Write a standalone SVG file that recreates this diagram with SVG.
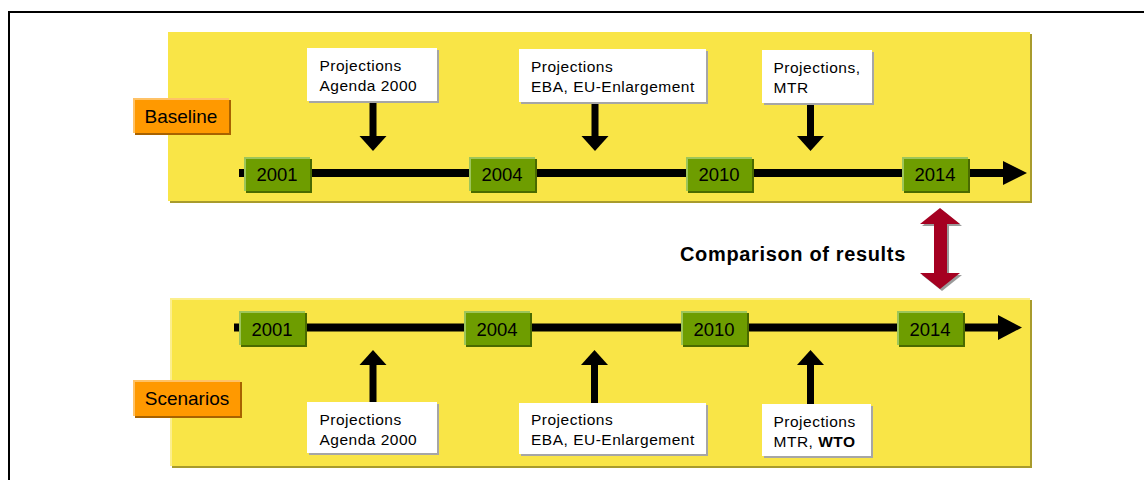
<svg xmlns="http://www.w3.org/2000/svg" width="1144" height="480" viewBox="0 0 1144 480">
<style>
text{font-family:"Liberation Sans",Arial,Helvetica,sans-serif;fill:#000}
.yr{font-size:18.5px;text-anchor:middle}
.lbl{font-size:19px;text-anchor:middle}
.pj{font-size:15.5px;letter-spacing:0.5px}
.panel{fill:#F9E547}
.pshadow{fill:#A89B2C}
.green{fill:#6E9D00}
.gshadow{fill:#4A6A00}
.glight{fill:#9DC55A}
.orange{fill:#FF9900}
.oshadow{fill:#A86200}
.olight{fill:#FFC266}
.white{fill:#FFFFFF}
.wshadow{fill:#A6A6A6}
.blk{fill:#000}
</style>
<rect x="9" y="12" width="1150" height="480" fill="none" stroke="#000" stroke-width="2"/>

<g id="panel-baseline">
<rect class="pshadow" x="170" y="34" width="862" height="169"/>
<rect class="panel" x="168" y="32" width="862" height="169"/>
</g>
<g id="panel-scenarios">
<rect class="pshadow" x="172" y="300" width="860" height="168"/>
<rect fill="#FCEF8C" x="170" y="298" width="860" height="168"/>
<rect class="panel" x="172" y="300" width="858" height="166"/>
</g>

<g id="connectors">
<rect class="blk" x="239" y="169" width="765" height="8"/>
<polygon class="blk" points="1003,161 1027,173 1003,185"/>
<rect class="blk" x="234" y="323.5" width="765" height="8"/>
<polygon class="blk" points="998,315 1022,327.5 998,340"/>
<rect class="blk" x="369.5" y="100" width="7" height="37"/>
<polygon class="blk" points="359.5,136 386.5,136 373,151"/>
<rect class="blk" x="591.5" y="101" width="7" height="36"/>
<polygon class="blk" points="581.5,136 608.5,136 595,151"/>
<rect class="blk" x="807" y="102" width="7" height="35"/>
<polygon class="blk" points="797,136 824,136 810.5,151"/>
<rect class="blk" x="369.5" y="364" width="7" height="39"/>
<polygon class="blk" points="373,350 359.5,365 386.5,365"/>
<rect class="blk" x="591" y="364" width="7" height="40"/>
<polygon class="blk" points="594.5,350 581,365 608,365"/>
<rect class="blk" x="807" y="364" width="7" height="41"/>
<polygon class="blk" points="810.5,350 797,365 824,365"/>
<g id="compare-arrow">
<polygon fill="#9A9A9A" points="942,210 962,226 949,226 949,275 962,275 942,291 922,275 936,275 936,226 922,226"/>
<polygon fill="#A50021" points="940,208 960,224 947,224 947,273 960,273 940,289 920,273 934,273 934,224 920,224"/>
</g>
</g>

<g id="label-baseline">
<rect class="oshadow" x="135" y="100" width="96" height="35"/>
<rect class="olight" x="133" y="98" width="96" height="35"/>
<rect class="orange" x="135" y="100" width="94" height="33"/>
<text class="lbl" x="181" y="123">Baseline</text>
</g>
<g id="label-scenarios">
<rect class="oshadow" x="135" y="382" width="107" height="36"/>
<rect class="olight" x="133" y="380" width="107" height="36"/>
<rect class="orange" x="135" y="382" width="105" height="34"/>
<text class="lbl" x="187" y="404.5">Scenarios</text>
</g>

<g id="comparison">
<text x="680" y="260.5" font-size="20" font-weight="bold" letter-spacing="0.65">Comparison of results</text>
</g>

<g id="top-2001"><rect class="gshadow" x="246" y="159" width="66" height="34"/><rect class="glight" x="244" y="157" width="66" height="34"/><rect class="green" x="246" y="159" width="64" height="32"/><text class="yr" x="277" y="181">2001</text></g>
<g id="top-2004"><rect class="gshadow" x="471" y="159" width="66" height="34"/><rect class="glight" x="469" y="157" width="66" height="34"/><rect class="green" x="471" y="159" width="64" height="32"/><text class="yr" x="502" y="181">2004</text></g>
<g id="top-2010"><rect class="gshadow" x="688" y="159" width="66" height="34"/><rect class="glight" x="686" y="157" width="66" height="34"/><rect class="green" x="688" y="159" width="64" height="32"/><text class="yr" x="719" y="181">2010</text></g>
<g id="top-2014"><rect class="gshadow" x="904" y="159" width="66" height="34"/><rect class="glight" x="902" y="157" width="66" height="34"/><rect class="green" x="904" y="159" width="64" height="32"/><text class="yr" x="935" y="181">2014</text></g>

<g id="bot-2001"><rect class="gshadow" x="241" y="313" width="66" height="34"/><rect class="glight" x="239" y="311" width="66" height="34"/><rect class="green" x="241" y="313" width="64" height="32"/><text class="yr" x="272" y="335.5">2001</text></g>
<g id="bot-2004"><rect class="gshadow" x="466" y="313" width="66" height="34"/><rect class="glight" x="464" y="311" width="66" height="34"/><rect class="green" x="466" y="313" width="64" height="32"/><text class="yr" x="497" y="335.5">2004</text></g>
<g id="bot-2010"><rect class="gshadow" x="683" y="313" width="66" height="34"/><rect class="glight" x="681" y="311" width="66" height="34"/><rect class="green" x="683" y="313" width="64" height="32"/><text class="yr" x="714" y="335.5">2010</text></g>
<g id="bot-2014"><rect class="gshadow" x="899" y="313" width="66" height="34"/><rect class="glight" x="897" y="311" width="66" height="34"/><rect class="green" x="899" y="313" width="64" height="32"/><text class="yr" x="930" y="335.5">2014</text></g>

<g id="top-agenda"><rect class="wshadow" x="309" y="50" width="130" height="53"/><rect class="white" x="307" y="48" width="130" height="53"/><text class="pj" x="319.5" y="71">Projections</text><text class="pj" x="319.5" y="91">Agenda 2000</text></g>
<g id="top-eba"><rect class="wshadow" x="521" y="51" width="187" height="53"/><rect class="white" x="519" y="49" width="187" height="53"/><text class="pj" x="531" y="71.5">Projections</text><text class="pj" x="531" y="91.5">EBA, EU-Enlargement</text></g>
<g id="top-mtr"><rect class="wshadow" x="764" y="52" width="110" height="53"/><rect class="white" x="762" y="50" width="110" height="53"/><text class="pj" x="773.5" y="72.5">Projections,</text><text class="pj" x="773.5" y="92.5">MTR</text></g>

<g id="bot-agenda"><rect class="wshadow" x="309" y="404" width="130" height="51"/><rect class="white" x="307" y="402" width="130" height="51"/><text class="pj" x="319.5" y="425">Projections</text><text class="pj" x="319.5" y="445">Agenda 2000</text></g>
<g id="bot-eba"><rect class="wshadow" x="521" y="405" width="187" height="51"/><rect class="white" x="519" y="403" width="187" height="51"/><text class="pj" x="531" y="425">Projections</text><text class="pj" x="531" y="445">EBA, EU-Enlargement</text></g>
<g id="bot-mtr"><rect class="wshadow" x="764" y="406" width="109" height="52"/><rect class="white" x="762" y="404" width="109" height="52"/><text class="pj" x="773.5" y="426.5">Projections</text><text class="pj" x="773.5" y="446.5">MTR, <tspan font-weight="bold">WTO</tspan></text></g>
</svg>
